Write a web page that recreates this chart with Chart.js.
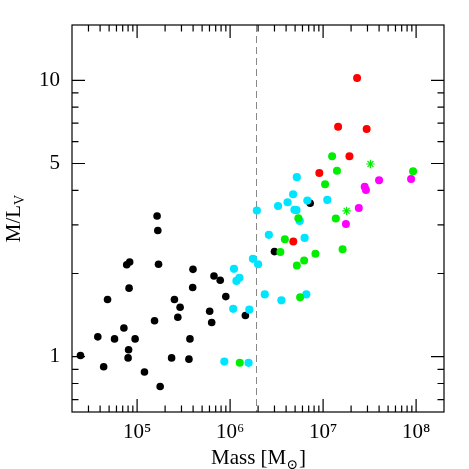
<!DOCTYPE html>
<html>
<head>
<meta charset="utf-8">
<title>M/L vs Mass</title>
<script src="https://cdn.jsdelivr.net/npm/chart.js@4.4.0/dist/chart.umd.min.js"></script>
<style>
html, body { margin: 0; padding: 0; background: #fff; }
</style>
</head>
<body>
<canvas id="ml" width="469" height="469"></canvas>

<script>
// mass [Msun] and M/L_V, one pair of arrays per sample
var blackMass = [1.64e5, 1.67e5, 7.73e4, 8.32e4, 1.70e5, 3.99e5, 6.71e5, 7.83e5, 8.20e4, 3.96e5, 8.99e5, 4.81e4, 2.52e5, 2.90e5, 6.03e5, 2.74e5, 6.34e5, 1.54e5, 7.21e4, 3.78e4, 5.72e4, 9.52e4, 3.70e5, 8.10e4, 2.46e4, 8.00e4, 2.35e5, 3.61e5, 4.37e4, 1.20e5, 1.77e5, 1.46e6, 3.00e6, 7.26e6];
var blackML   = [3.23, 2.86, 2.15, 2.20, 2.16, 2.07, 1.96, 1.89, 1.77, 1.78, 1.65, 1.61, 1.61, 1.51, 1.46, 1.39, 1.33, 1.35, 1.27, 1.18, 1.16, 1.16, 1.16, 1.06, 1.01, 0.99, 0.99, 0.98, 0.92, 0.88, 0.78, 1.41, 2.40, 3.59];

var cyanMass = [5.22e6, 4.76e6, 4.15e6, 3.28e6, 6.77e6, 1.11e7, 1.94e6, 4.92e6, 5.17e6, 5.61e6, 2.61e6, 6.33e6, 1.76e6, 2.00e6, 1.10e6, 1.26e6, 1.17e6, 2.36e6, 3.56e6, 6.60e6, 1.08e6, 1.61e6, 8.67e5, 1.58e6];
var cyanML   = [4.46, 3.87, 3.62, 3.51, 3.67, 3.69, 3.38, 3.40, 3.39, 3.10, 2.76, 2.69, 2.26, 2.16, 2.08, 1.93, 1.88, 1.68, 1.60, 1.68, 1.49, 1.48, 0.96, 0.95];

var greenMass = [1.25e7, 1.41e7, 9.28e7, 1.05e7, 1.37e7, 5.42e6, 3.88e6, 3.47e6, 8.27e6, 6.25e6, 5.22e6, 1.62e7, 5.66e6, 1.27e6];
var greenML   = [5.31, 4.71, 4.69, 4.21, 3.16, 3.17, 2.66, 2.39, 2.36, 2.23, 2.14, 2.45, 1.64, 0.95];

var starMass = [3.23e7, 1.79e7];
var starML   = [4.98, 3.37];

var redMass = [2.32e7, 1.45e7, 2.94e7, 1.92e7, 9.11e6, 4.78e6];
var redML   = [10.2, 6.79, 6.67, 5.31, 4.62, 2.61];

var magMass = [4.00e7, 8.83e7, 2.80e7, 2.89e7, 2.42e7, 1.76e7];
var magML   = [4.35, 4.39, 4.12, 4.01, 3.45, 3.02];

var massLimit = 1.9e6;

var xTicks = [1e5, 1e6, 1e7, 1e8];
var xTickLabels = ['10\u2075', '10\u2076', '10\u2077', '10\u2078'];
var yTicks = [1, 5, 10];
var yTickLabels = ['1', '5', '10'];
var yMinor = [0.7, 0.8, 0.9, 2, 3, 4, 6, 7, 8, 9];

function pairs(xs, ys) {
  var out = [];
  for (var i = 0; i < xs.length; i++) out.push({x: xs[i], y: ys[i]});
  return out;
}

var serif = '"Liberation Serif", "DejaVu Serif", serif';

// frame with inward ticks on all sides, dashed limit line, axis titles
var framePlugin = {
  id: 'frame',
  beforeDatasetsDraw: function(chart) {
    var ctx = chart.ctx, a = chart.chartArea;
    var px = chart.scales.x.getPixelForValue(massLimit);
    ctx.save();
    ctx.strokeStyle = '#888';
    ctx.lineWidth = 1;
    ctx.setLineDash([7, 4]);
    ctx.beginPath();
    ctx.moveTo(Math.round(px) + 0.5, a.top);
    ctx.lineTo(Math.round(px) + 0.5, a.bottom);
    ctx.stroke();
    ctx.restore();
  },
  afterDraw: function(chart) {
    var ctx = chart.ctx, a = chart.chartArea;
    var xs = chart.scales.x, ys = chart.scales.y;
    ctx.save();
    ctx.strokeStyle = '#000';
    ctx.lineWidth = 1.2;
    ctx.strokeRect(a.left, a.top, a.right - a.left, a.bottom - a.top);

    ctx.beginPath();
    // x ticks
    for (var d = 4; d <= 8; d++) {
      for (var m = 1; m <= 9; m++) {
        var v = m * Math.pow(10, d);
        if (v <= xs.min * 1.02 || v >= xs.max) continue;
        var p = xs.getPixelForValue(v);
        var len = (m === 1) ? 13 : 6.5;
        ctx.moveTo(p, a.bottom); ctx.lineTo(p, a.bottom - len);
        ctx.moveTo(p, a.top); ctx.lineTo(p, a.top + len);
      }
    }
    // y ticks
    yTicks.concat(yMinor).forEach(function(v) {
      var p = ys.getPixelForValue(v);
      var len = yTicks.indexOf(v) >= 0 ? 13 : 6.5;
      ctx.moveTo(a.left, p); ctx.lineTo(a.left + len, p);
      ctx.moveTo(a.right, p); ctx.lineTo(a.right - len, p);
    });
    ctx.stroke();

    // x title
    ctx.fillStyle = '#000';
    ctx.textBaseline = 'alphabetic';
    var s1 = 'Mass [M', s3 = ']';
    ctx.font = '14px ' + serif;
    var w2 = ctx.measureText('\u2299').width;
    ctx.font = '21px ' + serif;
    var w1 = ctx.measureText(s1).width, w3 = ctx.measureText(s3).width;
    var x0 = (a.left + a.right) / 2 - (w1 + w2 + w3) / 2;
    var by = 464;
    ctx.textAlign = 'left';
    ctx.fillText(s1, x0, by);
    ctx.font = '14px ' + serif;
    ctx.fillText('\u2299', x0 + w1, by + 5);
    ctx.font = '21px ' + serif;
    ctx.fillText(s3, x0 + w1 + w2 + 1, by);

    // y title
    ctx.translate(20, (a.top + a.bottom) / 2);
    ctx.rotate(-Math.PI / 2);
    var t1 = 'M/L';
    var tw1 = ctx.measureText(t1).width;
    ctx.font = '14px ' + serif;
    var tw2 = ctx.measureText('V').width;
    ctx.font = '21px ' + serif;
    var tx = -(tw1 + tw2) / 2;
    ctx.fillText(t1, tx, 0);
    ctx.font = '14px ' + serif;
    ctx.fillText('V', tx + tw1, 4);
    ctx.restore();
  }
};

new Chart(document.getElementById('ml'), {
  type: 'scatter',
  data: {
    datasets: [
      { label: 'black', data: pairs(blackMass, blackML), backgroundColor: '#000', borderWidth: 0, pointRadius: 3.8, order: 6 },
      { label: 'cyan', data: pairs(cyanMass, cyanML), backgroundColor: '#00e5ff', borderWidth: 0, pointRadius: 4.1, order: 5 },
      { label: 'green', data: pairs(greenMass, greenML), backgroundColor: '#00ee00', borderWidth: 0, pointRadius: 4, order: 4 },
      { label: 'green star', data: pairs(starMass, starML), pointStyle: 'star', borderColor: '#00ee00', borderWidth: 1.2, pointRadius: 4.2, order: 3 },
      { label: 'red', data: pairs(redMass, redML), backgroundColor: '#ff0000', borderWidth: 0, pointRadius: 4, order: 2 },
      { label: 'magenta', data: pairs(magMass, magML), backgroundColor: '#ff00ff', borderWidth: 0, pointRadius: 4, order: 1 }
    ]
  },
  options: {
    responsive: false,
    animation: false,
    layout: { padding: { top: 25, right: 25, left: 0, bottom: 0 } },
    plugins: { legend: { display: false }, tooltip: { enabled: false } },
    scales: {
      x: {
        type: 'logarithmic',
        bounds: 'data',
        min: Math.pow(10, 4.3),
        max: Math.pow(10, 8.3),
        grid: { display: false, drawTicks: false },
        border: { display: false },
        afterBuildTicks: function(scale) {
          scale.ticks = xTicks.map(function(v) { return { value: v }; });
        },
        afterFit: function(scale) { scale.height = 57; },
        ticks: {
          autoSkip: false,
          maxRotation: 0,
          padding: 8,
          color: '#000',
          font: { family: serif, size: 21 },
          callback: function(v, i) { return xTickLabels[i]; }
        }
      },
      y: {
        type: 'logarithmic',
        bounds: 'data',
        min: Math.pow(10, -0.2),
        max: Math.pow(10, 1.2),
        grid: { display: false, drawTicks: false },
        border: { display: false },
        afterBuildTicks: function(scale) {
          scale.ticks = yTicks.map(function(v) { return { value: v }; });
        },
        afterFit: function(scale) { scale.width = 72; },
        ticks: {
          autoSkip: false,
          padding: 12,
          color: '#000',
          font: { family: serif, size: 21 },
          callback: function(v, i) { return yTickLabels[i]; }
        }
      }
    }
  },
  plugins: [framePlugin]
});
</script>
</body>
</html>
